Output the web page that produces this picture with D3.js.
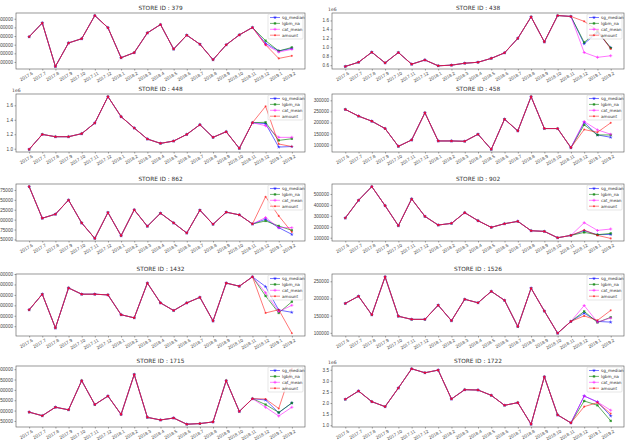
<!DOCTYPE html>
<html lang="en">
<head>
<meta charset="UTF-8">
<title>Store sales forecasts</title>
<script src="https://d3js.org/d3.v7.min.js"></script>
<style>
  body { margin: 0; background: #fff; }
  svg { display: block; font-family: "DejaVu Sans", sans-serif; }
  .title { font-size: 5.8px; fill: #333; text-anchor: middle; }
  .tick text { font-size: 4.6px; fill: #444; }
  .offset { font-size: 4.6px; fill: #444; }
  .legend text { font-size: 4.2px; fill: #333; }
</style>
</head>
<body>
<svg id="chart" width="628" height="440"></svg>
<script>
const months = ["2017.6", "2017.7", "2017.8", "2017.9", "2017.10", "2017.11", "2017.12",
  "2018.1", "2018.2", "2018.3", "2018.4", "2018.5", "2018.6", "2018.7", "2018.8", "2018.9",
  "2018.10", "2018.11", "2018.12", "2019.1", "2019.2"];
const seriesNames = ["sg_median", "lgbm_na", "cat_mean", "amount"];

// store 379
const amount379 = [391000, 551000, 48000, 320000, 369000, 637000, 496000, 149000, 208000, 436000, 533000, 249000, 410000, 305000, 126000, 298000, 413000, 499000, 298000, 141000, 171000];
const sgMedian379 = [316000, 227000, 257000];
const lgbmNa379 = [346000, 227000, 268000];
const catMean379 = [298000, 216000, 246000];
const ticks379 = [100000, 200000, 300000, 400000, 500000, 600000];

// store 438
const amount438 = [571000, 665000, 890000, 651000, 883000, 622000, 716000, 586000, 600000, 643000, 665000, 752000, 875000, 1200000, 1680000, 1120000, 1710000, 1690000, 1580000, 1380000, 960000];
const sgMedian438 = [1080000, 1330000, 990000];
const lgbmNa438 = [1110000, 1360000, 985000];
const catMean438 = [883000, 775000, 810000];
const ticks438 = [600000, 800000, 1000000, 1200000, 1400000, 1600000];

// store 448
const amount448 = [991000, 1198000, 1166000, 1166000, 1208000, 1355000, 1720000, 1443000, 1286000, 1134000, 1074000, 1106000, 1198000, 1332000, 1157000, 1235000, 1005000, 1360000, 1586000, 1065000, 1030000];
const sgMedian448 = [1346000, 1023000, 1030000];
const lgbmNa448 = [1365000, 1115000, 1138000];
const catMean448 = [1318000, 1157000, 1157000];
const ticks448 = [1000000, 1200000, 1400000, 1600000];

// store 458
const amount458 = [259100, 228800, 206000, 172700, 92400, 121200, 243900, 116700, 116700, 115200, 147000, 78800, 215000, 162100, 316700, 172700, 172700, 86400, 168200, 156000, 198500];
const sgMedian458 = [200000, 143900, 133300];
const lgbmNa458 = [189400, 143900, 143900];
const catMean458 = [204500, 166700, 147000];
const ticks458 = [100000, 150000, 200000, 250000, 300000];

// store 862
const amount862 = [283500, 203600, 213800, 249500, 191700, 152600, 218000, 159400, 224800, 183200, 216300, 191700, 166200, 224000, 188300, 218900, 212100, 189100, 258000, 209500, 168700];
const sgMedian862 = [201000, 179800, 162800];
const lgbmNa862 = [196800, 184000, 173000];
const catMean862 = [205300, 179800, 179800];
const ticks862 = [150000, 175000, 200000, 225000, 250000, 275000];

// store 902
const amount902 = [280100, 442000, 567100, 393100, 209900, 454100, 295400, 216000, 231300, 329000, 255700, 194700, 228200, 249600, 164100, 158000, 100000, 121400, 170200, 121400, 93900];
const sgMedian902 = [164100, 127500, 130500];
const lgbmNa902 = [148800, 127500, 139700];
const catMean902 = [237400, 167200, 179400];
const ticks902 = [100000, 200000, 300000, 400000, 500000];

// store 1432
const amount1432 = [256700, 406700, 83300, 466700, 406700, 406700, 400000, 210000, 180000, 513300, 323300, 250000, 323300, 376700, 150000, 513300, 483300, 573300, 227000, 258000, 33000];
const sgMedian1432 = [480000, 255000, 233000];
const lgbmNa1432 = [390000, 227000, 335000];
const catMean1432 = [420000, 240000, 300000];
const ticks1432 = [100000, 200000, 300000, 400000, 500000, 600000];

// store 1526
const amount1526 = [185500, 206600, 152300, 263000, 148300, 139200, 139200, 180500, 135200, 197600, 187500, 220700, 194600, 118100, 229800, 163400, 99000, 133200, 149300, 136200, 165400];
const sgMedian1526 = [157300, 133200, 131200];
const lgbmNa1526 = [162400, 130200, 145300];
const catMean1526 = [179500, 131200, 143300];
const ticks1526 = [100000, 150000, 200000, 250000];

// store 1715
const amount1715 = [192700, 175300, 216400, 203800, 344600, 229100, 270200, 181600, 374600, 167400, 154700, 164200, 134200, 137300, 145300, 344600, 195900, 257600, 256000, 210100, 402000];
const sgMedian1715 = [251200, 189500, 237000];
const lgbmNa1715 = [229100, 191100, 237000];
const catMean1715 = [216400, 173700, 216400];
const ticks1715 = [150000, 200000, 250000, 300000, 350000, 400000];

// store 1722
const amount1722 = [2168000, 2542000, 2063000, 1838000, 2677000, 3545000, 3365000, 3485000, 2183000, 2602000, 2587000, 2347000, 1898000, 2018000, 1045000, 3186000, 1464000, 1105000, 1838000, 2018000, 1524000];
const sgMedian1722 = [2317000, 2048000, 1419000];
const lgbmNa1722 = [2093000, 1898000, 1195000];
const catMean1722 = [2317000, 2048000, 1674000];
const ticks1722 = [1000000, 1500000, 2000000, 2500000, 3000000, 3500000];

const panels = [
  { id: 379, amount: amount379, tails: [sgMedian379, lgbmNa379, catMean379], ticks: ticks379, sci: false },
  { id: 438, amount: amount438, tails: [sgMedian438, lgbmNa438, catMean438], ticks: ticks438, sci: true },
  { id: 448, amount: amount448, tails: [sgMedian448, lgbmNa448, catMean448], ticks: ticks448, sci: true },
  { id: 458, amount: amount458, tails: [sgMedian458, lgbmNa458, catMean458], ticks: ticks458, sci: false },
  { id: 862, amount: amount862, tails: [sgMedian862, lgbmNa862, catMean862], ticks: ticks862, sci: false },
  { id: 902, amount: amount902, tails: [sgMedian902, lgbmNa902, catMean902], ticks: ticks902, sci: false },
  { id: 1432, amount: amount1432, tails: [sgMedian1432, lgbmNa1432, catMean1432], ticks: ticks1432, sci: false },
  { id: 1526, amount: amount1526, tails: [sgMedian1526, lgbmNa1526, catMean1526], ticks: ticks1526, sci: false },
  { id: 1715, amount: amount1715, tails: [sgMedian1715, lgbmNa1715, catMean1715], ticks: ticks1715, sci: false },
  { id: 1722, amount: amount1722, tails: [sgMedian1722, lgbmNa1722, catMean1722], ticks: ticks1722, sci: true }
];

// look of each series: colour, opacity, marker
const styles = [
  { color: "#0000ff", opacity: 0.65, symbol: d3.symbolStar, size: 5 },
  { color: "#008000", opacity: 0.7, symbol: d3.symbolSquare, size: 5.5 },
  { color: "#ff00ff", opacity: 0.6, symbol: d3.symbolCross, size: 5 },
  { color: "#ff0000", opacity: 0.6, symbol: d3.symbolCircle, size: 3.5 }
];

const cols = [[16, 305], [332, 624]];
const rows = [[13, 69], [94, 152], [184, 241], [274, 336], [366, 427]];
const HIST = 18;

const svg = d3.select("#chart");

panels.forEach((p, k) => {
  const [x0, x1] = cols[k % 2];
  const [y0, y1] = rows[Math.floor(k / 2)];

  const series = p.tails.map(t => p.amount.slice(0, HIST).concat(t));
  series.push(p.amount);

  const all = series.flat();
  const lo = d3.min(all), hi = d3.max(all), pad = (hi - lo) * 0.05;

  const x = d3.scaleLinear().domain([-1, months.length]).range([x0, x1]);
  const y = d3.scaleLinear().domain([lo - pad, hi + pad]).range([y1, y0]);

  const g = svg.append("g");

  g.append("text").attr("class", "title")
    .attr("x", (x0 + x1) / 2).attr("y", y0 - 3)
    .text(`STORE ID : ${p.id}`);

  // x axis
  const xa = g.append("g").attr("transform", `translate(0,${y1})`)
    .call(d3.axisBottom(x).tickValues(d3.range(months.length))
      .tickFormat(i => months[i]).tickSize(1.5).tickSizeOuter(0));
  xa.select(".domain").remove();
  xa.selectAll(".tick line").attr("stroke", "#444").attr("stroke-width", 0.5);
  xa.selectAll(".tick text")
    .attr("x", 0).attr("y", 0).attr("dy", "0.7em")
    .attr("text-anchor", "end")
    .attr("transform", "translate(2,2.5) rotate(-30)");

  // y axis
  const fmt = p.sci ? (v => (v / 1e6).toFixed(1)) : (v => String(v));
  const ya = g.append("g").attr("transform", `translate(${x0},0)`)
    .call(d3.axisLeft(y).tickValues(p.ticks).tickFormat(fmt)
      .tickSize(1.5).tickPadding(1.5).tickSizeOuter(0));
  ya.select(".domain").remove();
  ya.selectAll(".tick line").attr("stroke", "#444").attr("stroke-width", 0.5);

  if (p.sci) {
    g.append("text").attr("class", "offset")
      .attr("x", x0 - 4).attr("y", y0 - 2).text("1e6");
  }

  // lines + markers
  const line = d3.line().x((d, i) => x(i)).y(d => y(d));
  series.forEach((s, j) => {
    const st = styles[j];
    g.append("path").datum(s)
      .attr("d", line)
      .attr("fill", "none")
      .attr("stroke", st.color)
      .attr("stroke-opacity", st.opacity)
      .attr("stroke-width", 0.9);
    g.selectAll(null).data(s).enter().append("path")
      .attr("transform", (d, i) => `translate(${x(i)},${y(d)})`)
      .attr("d", d3.symbol(st.symbol, st.size))
      .attr("fill", st.color)
      .attr("fill-opacity", st.opacity);
  });

  // frame
  g.append("rect")
    .attr("x", x0).attr("y", y0)
    .attr("width", x1 - x0).attr("height", y1 - y0)
    .attr("fill", "none").attr("stroke", "#555").attr("stroke-width", 0.6);

  // legend
  const lx = x1 - 37, ly = y0 + 1;
  const lg = g.append("g").attr("class", "legend");
  lg.append("rect").attr("x", lx).attr("y", ly).attr("width", 35).attr("height", 25)
    .attr("rx", 1).attr("fill", "#fff").attr("fill-opacity", 0.8)
    .attr("stroke", "#ccc").attr("stroke-width", 0.5);
  seriesNames.forEach((name, j) => {
    const st = styles[j];
    const yy = ly + 3.5 + j * 5.9;
    lg.append("line").attr("x1", lx + 2).attr("x2", lx + 12)
      .attr("y1", yy).attr("y2", yy)
      .attr("stroke", st.color).attr("stroke-opacity", st.opacity).attr("stroke-width", 0.8);
    lg.append("path").attr("transform", `translate(${lx + 7},${yy})`)
      .attr("d", d3.symbol(st.symbol, st.size))
      .attr("fill", st.color).attr("fill-opacity", st.opacity);
    lg.append("text").attr("x", lx + 14).attr("y", yy).attr("dy", "0.35em").text(name);
  });
});
</script>
</body>
</html>
